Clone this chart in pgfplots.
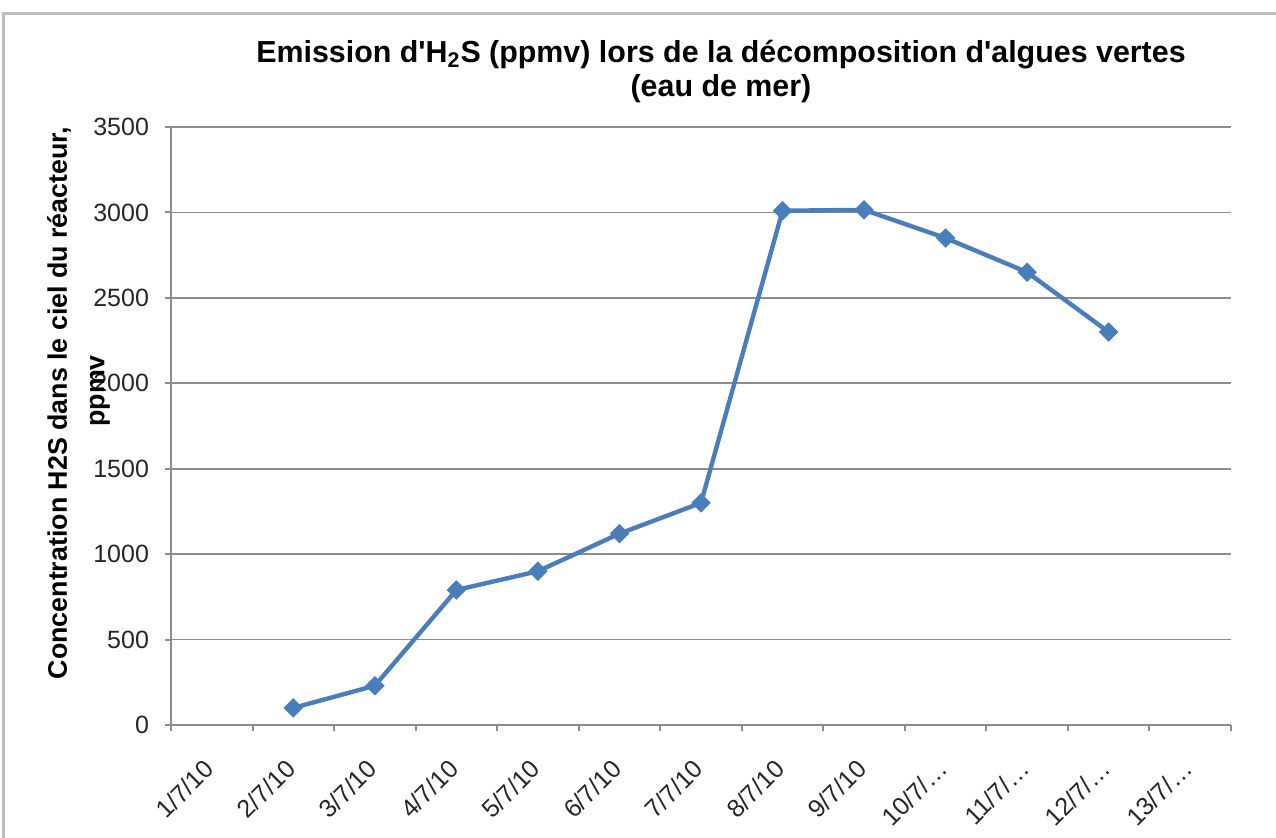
\documentclass[border=0pt]{standalone}
\usepackage{pgfplots}
\pgfplotsset{compat=1.18}
\usepackage{fontspec}
\setmainfont{Liberation Sans}
\definecolor{lineblue}{HTML}{4A7EBB}
\definecolor{gridgray}{HTML}{8C8C8C}
\definecolor{framegray}{HTML}{BDBDBD}
\pgfplotstableread{
x y
2 100
3 230
4 790
5 900
6 1120
7 1300
8 3010
9 3015
10 2850
11 2650
12 2300
}\datatable
\begin{document}
\begin{tikzpicture}
\begin{axis}[
  at={(0pt,0pt)}, anchor=south west,
  scale only axis, width=530pt, height=299pt,
  xmin=0.5, xmax=13.5, ymin=0, ymax=3500,
  axis x line*=bottom, axis y line*=left,
  axis line style={draw=gridgray, line width=1pt},
  xtick={1,2,3,4,5,6,7,8,9,10,11,12,13},
  xticklabels={1/7/10,2/7/10,3/7/10,4/7/10,5/7/10,6/7/10,7/7/10,8/7/10,9/7/10,10/7/…,11/7/…,12/7/…,13/7/…},
  x tick style={draw=none},
  minor xtick={0.5,1.5,2.5,3.5,4.5,5.5,6.5,7.5,8.5,9.5,10.5,11.5,12.5,13.5},
  minor x tick style={draw=gridgray, line width=1pt},
  ytick={0,500,1000,1500,2000,2500,3000,3500},
  y tick style={draw=gridgray, line width=1pt},
  tick align=outside,
  major tick length=3pt, minor tick length=3pt,
  ymajorgrids,
  grid style={draw=gridgray, line width=0.8pt},
  /pgf/number format/assume math mode=true,
  /pgf/number format/1000 sep={},
  ticklabel style={font=\fontsize{12.5}{15}\selectfont, text=black!85},
  xticklabel style={xshift=-4.5pt, yshift=-8.5pt, rotate=45, anchor=north east},
  yticklabel style={anchor=east, xshift=-4.5pt},
  clip=false,
]
\addplot[color=lineblue, line width=2.2pt, mark=square*, mark size=3.2pt,
  mark options={rotate=45, fill=lineblue, draw=lineblue, line width=0.5pt}]
  table[x=x, y=y] {\datatable};
\end{axis}
\draw[framegray, line width=1.5pt] (-83.5pt,-70pt) -- (-83.5pt,355.5pt) -- (570pt,355.5pt);
\node[font=\bfseries\fontsize{15.2}{18}\selectfont, anchor=base] at (275pt,331pt)
  {Emission d\textquotesingle H\textsubscript{2}S (ppmv) lors de la décomposition d\textquotesingle algues vertes};
\node[font=\bfseries\fontsize{15.2}{18}\selectfont, anchor=base] at (275pt,314.5pt) {(eau de mer)};
\node[rotate=90, font=\bfseries\fontsize{13.4}{16}\selectfont] at (-56pt,161pt)
  {Concentration H2S dans le ciel du réacteur,};
\node[rotate=90, font=\bfseries\fontsize{13.4}{16}\selectfont] at (-35.5pt,167pt) {ppmv};
\pgfresetboundingbox
\useasboundingbox (-85.5pt,-56pt) rectangle (552.5pt,362.5pt);
\end{tikzpicture}
\end{document}
